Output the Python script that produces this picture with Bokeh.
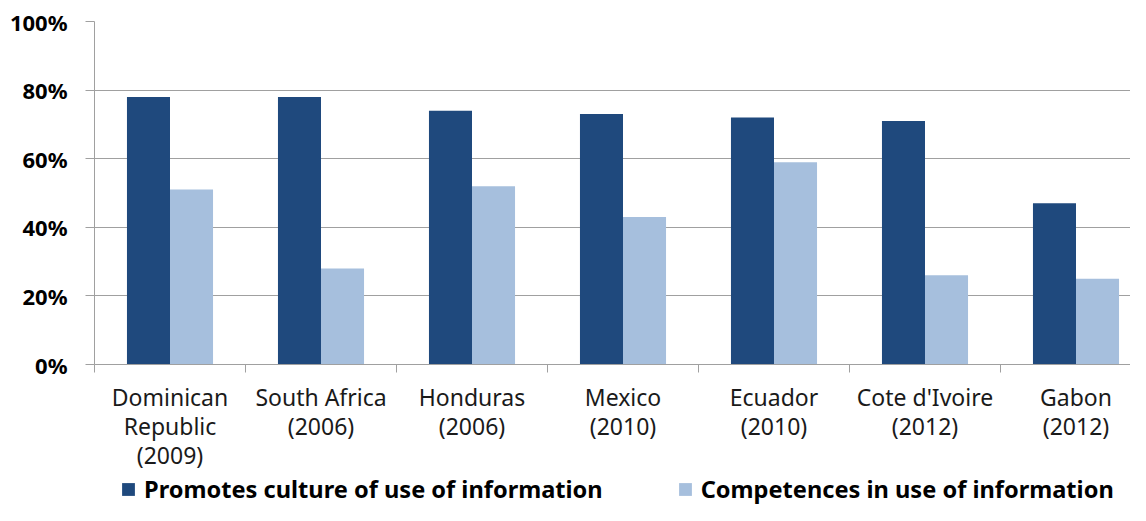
from bokeh.plotting import figure
from bokeh.models import (ColumnDataSource, Range1d, LinearAxis, FixedTicker,
                          Legend, LegendItem, NumeralTickFormatter)
from bokeh.layouts import column
from bokeh.core.properties import value
from bokeh.embed import file_html
from bokeh.resources import INLINE
import numpy as np

# ---- data ----
# category tick labels, as the lines in which they are wrapped
categories = [["Dominican", "Republic", "(2009)"], ["South Africa", "(2006)"],
              ["Honduras", "(2006)"], ["Mexico", "(2010)"], ["Ecuador", "(2010)"],
              ["Cote d'Ivoire", "(2012)"], ["Gabon", "(2012)"]]
promotes = [0.78, 0.78, 0.74, 0.73, 0.72, 0.71, 0.47]
competences = [0.51, 0.28, 0.52, 0.43, 0.59, 0.26, 0.25]
series_names = ["Promotes culture of use of information", "Competences in use of information"]
y_ticks = [0.0, 0.2, 0.4, 0.6, 0.8, 1.0]

DARK = "#1f497d"
LIGHT = "#a6bfdd"
GRID = "#a0a0a0"
FONT = "Noto Sans"

idx = np.arange(len(categories))
bar_w = 0.285
src = ColumnDataSource(dict(
    x_dark=idx + 0.5 - bar_w / 2,
    x_light=idx + 0.5 + bar_w / 2,
    promotes=promotes,
    competences=competences,
))

left = 94
FW, FH = 1036, 343
slot_px = 151
x_range = Range1d(0, FW / slot_px)

# ---------------- main chart ----------------
p = figure(frame_width=FW, frame_height=FH, output_backend="svg", toolbar_location=None,
           x_range=x_range, y_range=Range1d(0, 1.0),
           x_axis_location=None, y_axis_location=None,
           min_border_left=left, min_border_right=0, min_border_top=21,
           min_border_bottom=16)
p.outline_line_color = None
p.background_fill_color = "white"
p.border_fill_color = "white"

p.vbar(x="x_dark", top="promotes", width=bar_w, source=src,
       fill_color=DARK, line_color=None)
p.vbar(x="x_light", top="competences", width=bar_w, source=src,
       fill_color=LIGHT, line_color=None)

yax = LinearAxis(ticker=FixedTicker(ticks=y_ticks),
                 formatter=NumeralTickFormatter(format="0%"))
yax.axis_line_color = GRID
yax.major_tick_line_color = GRID
yax.major_tick_out = 9
yax.major_tick_in = 0
yax.minor_tick_line_color = None
yax.major_label_standoff = 18
yax.major_label_text_font = FONT
yax.major_label_text_font_style = "bold"
yax.major_label_text_font_size = "22px"
yax.major_label_text_color = "#000000"
p.add_layout(yax, "left")

# tick marks at the category boundaries
tax = LinearAxis(ticker=FixedTicker(ticks=list(range(len(categories) + 1))))
tax.axis_line_color = GRID
tax.major_tick_line_color = GRID
tax.major_tick_out = 8
tax.major_tick_in = 0
tax.minor_tick_line_color = None
tax.major_label_text_font_size = "0px"
tax.major_label_standoff = 0
tax.major_label_overrides = {i: "" for i in range(len(categories) + 1)}
p.add_layout(tax, "below")

p.ygrid.ticker = FixedTicker(ticks=y_ticks)
p.ygrid.grid_line_color = GRID
p.ygrid.grid_line_width = 1.2
p.xgrid.grid_line_color = None

# ---------------- category labels + legend strip ----------------
SH = 125          # strip height in px (y data == px from strip bottom)
first_line = 16   # px from strip top to centre of first label line
line_gap = 29     # px between label lines

p2 = figure(frame_width=FW, frame_height=SH, output_backend="svg", toolbar_location=None,
            x_range=x_range, y_range=Range1d(0, SH),
            x_axis_location=None, y_axis_location=None,
            min_border_left=left, min_border_right=0, min_border_top=0,
            min_border_bottom=0)
p2.outline_line_color = None
p2.background_fill_color = "white"
p2.border_fill_color = "white"
p2.xgrid.grid_line_color = None
p2.ygrid.grid_line_color = None

lx, ly, lt = [], [], []
for i, lines in enumerate(categories):
    for j, t in enumerate(lines):
        lx.append(i + 0.5)
        ly.append(SH - first_line - j * line_gap)
        lt.append(t)
p2.text(x=lx, y=ly, text=lt, text_align="center", text_baseline="middle",
        text_font=value(FONT), text_font_size="23px", text_color="#1a1a1a")

# zero-height copies of the series, only to carry the legend swatches
d1 = p2.vbar(x="x_dark", top=0, bottom=0, width=bar_w, source=src,
             fill_color=DARK, line_color=None)
d2 = p2.vbar(x="x_light", top=0, bottom=0, width=bar_w, source=src,
             fill_color=LIGHT, line_color=None)

legend = Legend(items=[LegendItem(label=series_names[0], renderers=[d1]),
                       LegendItem(label=series_names[1], renderers=[d2])],
                orientation="horizontal", location=(26, 0))
legend.padding = 0
legend.margin = 0
legend.border_line_color = None
legend.background_fill_color = None
legend.background_fill_alpha = 0
legend.glyph_width = 16
legend.glyph_height = 16
legend.label_standoff = 8
legend.spacing = 74
legend.label_text_font = FONT
legend.label_text_font_style = "bold"
legend.label_text_font_size = "23.6px"
legend.label_text_color = "#000000"
p2.add_layout(legend, "center")

layout = column(p, p2, spacing=0)
open("out.html", "w").write(file_html(layout, INLINE))
